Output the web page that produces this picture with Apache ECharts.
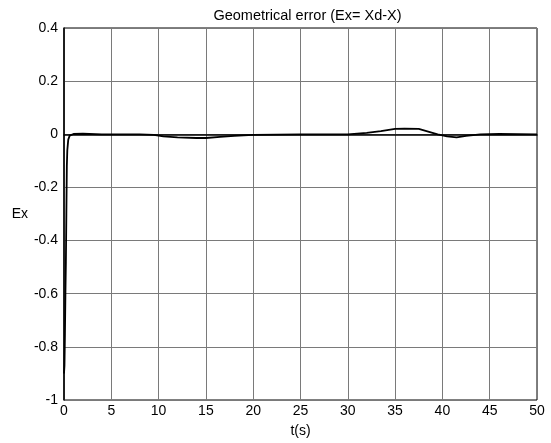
<!DOCTYPE html>
<html><head><meta charset="utf-8">
<script src="https://cdn.jsdelivr.net/npm/echarts@6/dist/echarts.min.js"></script>
<style>html,body{margin:0;padding:0;background:#fff}#c{width:551px;height:443px}</style>
</head><body><div id="c"></div>
<script>
var titleText = 'Geometrical error (Ex= Xd-X)';
var xName = 't(s)';
var yName = 'Ex';
var tValues = [0, 0.05, 0.1, 0.15, 0.2, 0.25, 0.3, 0.35, 0.45, 0.6, 0.8, 1.0, 2, 4, 6, 8, 9.5, 10.5, 12, 14, 15, 16.5, 18, 20, 25, 30, 32, 33.5, 35, 36, 37.5, 38.5, 39.5, 40.5, 41.5, 42.5, 44, 46, 50];
var exValues = [-0.9, -0.87, -0.75, -0.6, -0.48, -0.3, -0.12, -0.06, -0.02, -0.005, 0.0, 0.001, 0.002, 0.0, 0.0, 0.0, -0.002, -0.008, -0.012, -0.014, -0.014, -0.01, -0.006, -0.002, 0.0, 0.0, 0.005, 0.012, 0.02, 0.021, 0.02, 0.01, 0.0, -0.008, -0.012, -0.006, 0.0, 0.001, 0.0];
var xMin = 0, xMax = 50, xStep = 5;
var yMin = -1, yMax = 0.4, yStep = 0.2;

var data = tValues.map(function(t, i){ return [t, exValues[i]]; });
var font = 'Liberation Sans, Arial, sans-serif';
var fs = 14;
var chart = echarts.init(document.getElementById('c'), null, {renderer: 'canvas'});
chart.setOption({
  animation: false,
  backgroundColor: '#fff',
  title: {text: titleText, left: 302.5, textAlign: 'center', top: 3,
    textStyle: {fontFamily: font, fontSize: 14.5, fontWeight: 'normal', color: '#000'}},
  grid: {left: 64, right: 14, top: 28, bottom: 42, show: true, borderColor: '#000', borderWidth: 1},
  xAxis: {type: 'value', min: xMin, max: xMax, interval: xStep,
    name: xName, nameLocation: 'middle', nameGap: 24,
    nameTextStyle: {fontFamily: font, fontSize: fs, color: '#000'},
    axisLine: {show: true, lineStyle: {color: '#000', width: 1.5}},
    axisTick: {show: false},
    axisLabel: {fontFamily: font, fontSize: fs, color: '#000', margin: 4},
    splitLine: {show: true, lineStyle: {color: '#7a7a7a', width: 1}}},
  yAxis: {type: 'value', min: yMin, max: yMax, interval: yStep,
    name: yName, nameLocation: 'middle', nameRotate: 0, nameGap: 34,
    nameTextStyle: {fontFamily: font, fontSize: fs, color: '#000'},
    axisLine: {show: true, lineStyle: {color: '#000', width: 1.5}},
    axisTick: {show: false},
    axisLabel: {fontFamily: font, fontSize: fs, color: '#000', margin: 6,
      formatter: function(v){ return String(Math.round(v*10)/10); }},
    splitLine: {show: true, lineStyle: {color: '#7a7a7a', width: 1}}},
  series: [{type: 'line', data: data, symbol: 'none', smooth: false,
    lineStyle: {color: '#000', width: 1.8}}]
});
</script></body></html>
